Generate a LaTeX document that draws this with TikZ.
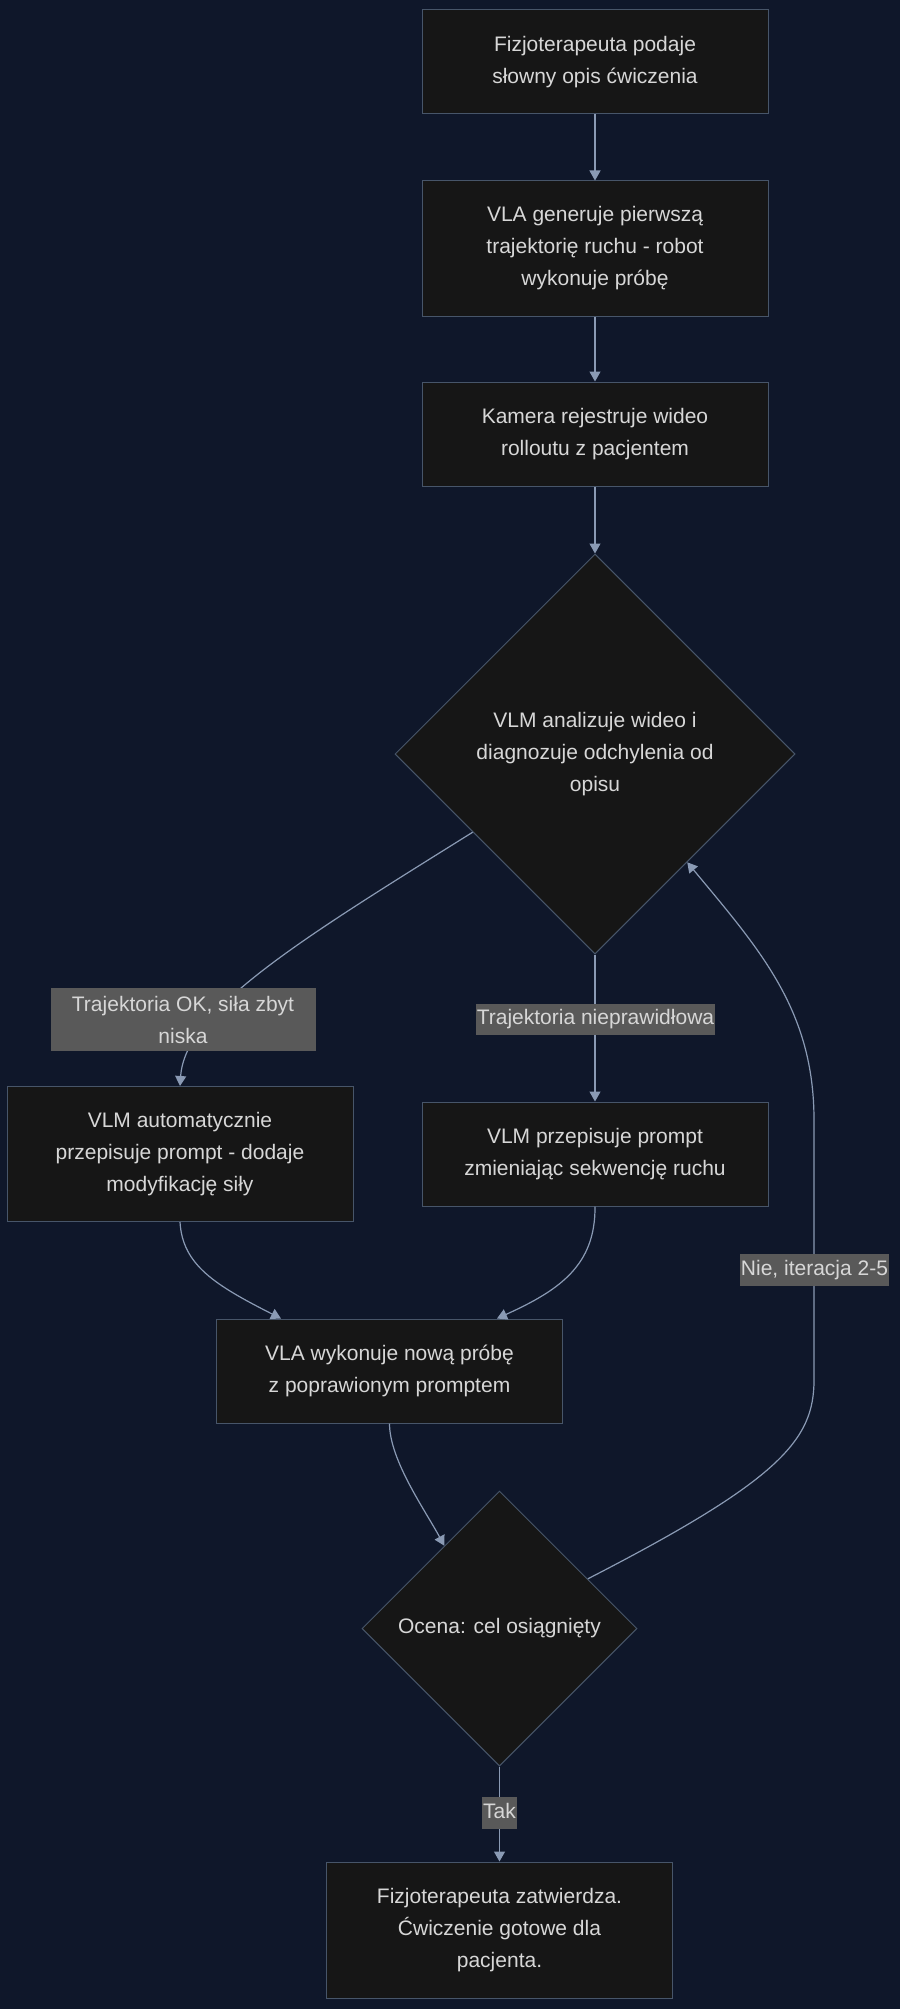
\documentclass[tikz,border=0pt]{standalone}
\usepackage{fontspec}
\setmainfont{Liberation Sans}
\usetikzlibrary{shapes.geometric, arrows.meta, positioning, calc}
\definecolor{nightbg}{RGB}{15,23,42}
\definecolor{boxfill}{RGB}{22,22,22}
\definecolor{boxline}{RGB}{71,85,105}
\definecolor{flowgray}{RGB}{138,154,180}
\definecolor{boxtext}{RGB}{215,215,215}
\definecolor{tagfill}{RGB}{89,89,89}
\tikzset{
  stepnode/.style={draw=boxline, fill=boxfill, text=boxtext, line width=1pt, minimum width=346pt, minimum height=104pt, inner sep=4pt, align=center, font=\fontsize{21}{32}\selectfont},
  tallnode/.style={stepnode, minimum height=135pt},
  decnode/.style={diamond, draw=boxline, fill=boxfill, text=boxtext, line width=1pt, inner sep=0pt, align=center, font=\fontsize{21}{32}\selectfont},
  tagnode/.style={fill=tagfill, text=boxtext, inner xsep=1pt, inner ysep=6pt, align=center, font=\fontsize{21}{32}\selectfont},
  tagline/.style={tagnode, text height=15pt, text depth=4.5pt},
  farrow/.style={-{Triangle[length=10pt,width=11pt]}, line width=1.2pt, flowgray},
}
\begin{document}
\begin{tikzpicture}[x=1pt, y=-1pt, node distance=66pt]
  \useasboundingbox[fill=nightbg] (0,0) rectangle (900,2009);
  % main column
  \node[stepnode] (opis) at (595,62) {Fizjoterapeuta podaje\\słowny opis ćwiczenia};
  \node[tallnode] (gen) [below=of opis] {VLA generuje pierwszą\\trajektorię ruchu - robot\\wykonuje próbę};
  \node[stepnode] (kam) [below=65pt of gen] {Kamera rejestruje wideo\\rolloutu z pacjentem};
  \node[decnode, minimum size=400pt] (anal) [below=67pt of kam] {VLM analizuje wideo i\\diagnozuje odchylenia od\\opisu};
  \node[stepnode] (przep) [below=147pt of anal] {VLM przepisuje prompt\\zmieniając sekwencję ruchu};
  \node[tallnode] (sila) [left=68pt of przep] {VLM automatycznie\\przepisuje prompt - dodaje\\modyfikację siły};
  \node[stepnode] (nowa) at (389.5,1371) {VLA wykonuje nową próbę\\z poprawionym promptem};
  \node[decnode, minimum size=275pt] (ocena) [below=67pt of nowa, xshift=110pt] {Ocena: cel osiągnięty};
  \node[tallnode, minimum height=136pt] (gotowe) [below=95pt of ocena] {Fizjoterapeuta zatwierdza.\\Ćwiczenie gotowe dla\\pacjenta.};
  % loop corners
  \coordinate (loopbot) at (814,1380);
  \coordinate (looptop) at (814,1120);
  % connectors
  \draw[farrow] (opis) -- (gen);
  \draw[farrow] (gen) -- (kam);
  \draw[farrow] (kam) -- (anal);
  \draw[farrow] (anal) -- (przep);
  \draw[farrow] ($(anal.west)!0.39!(anal.south)$) .. controls (300,940) and (185,1010) .. (sila.north);
  \draw[farrow] (sila.south) .. controls (182.5,1265) and (215,1285) .. ([xshift=65pt]nowa.north west);
  \draw[farrow] (przep.south) .. controls (595.5,1265) and (560,1290) .. ([xshift=-66pt]nowa.north east);
  \draw[farrow] (nowa.south) .. controls (389.5,1460) and (425,1510) .. ($(ocena.north)!0.4!(ocena.west)$);
  \draw[farrow] ($(ocena.north)!0.64!(ocena.east)$) .. controls (780,1480) and (814,1440) .. (loopbot) -- (looptop) .. controls (814,1010) and (760,950) .. ($(anal.east)!0.54!(anal.south)$);
  \draw[farrow] (ocena) -- (gotowe);
  % edge labels
  \node[tagnode, minimum width=265pt, minimum height=63pt] (oktag) at (183,1019.5) {Trajektoria OK, siła zbyt\\niska};
  \node[tagline] (zletag) at (595.5,1019.5) {Trajektoria nieprawidłowa};
  \node[tagline] (nietag) at (814.5,1270) {Nie, iteracja 2-5};
  \node[tagline] (taktag) at (499.5,1813) {Tak};
\end{tikzpicture}
\end{document}
